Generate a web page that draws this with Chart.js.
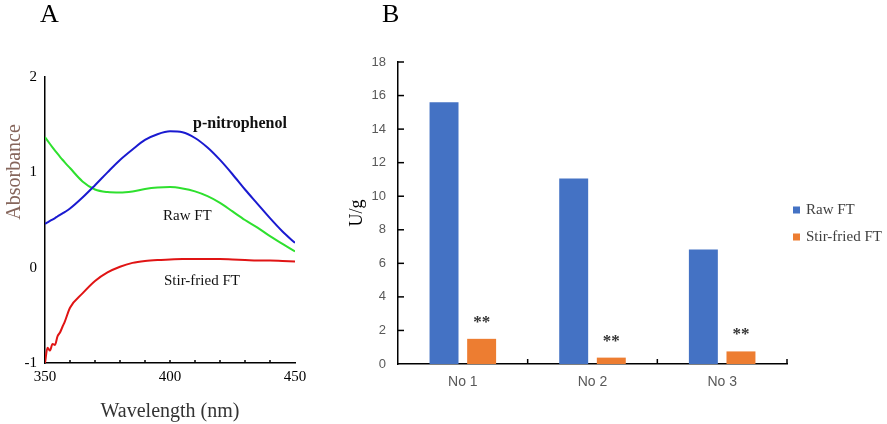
<!DOCTYPE html>
<html>
<head>
<meta charset="utf-8">
<script src="https://cdn.jsdelivr.net/npm/chart.js@4.4.1/dist/chart.umd.min.js"></script>
<style>
  html, body { margin: 0; padding: 0; background: #fff; }
  #wrap { position: relative; width: 887px; height: 424px; overflow: hidden; }
  canvas { position: absolute; top: 0; }
  #chartA { left: 0; }
  #chartB { left: 320px; }
</style>
</head>
<body>
<div id="wrap">
  <canvas id="chartA" width="320" height="424"></canvas>
  <canvas id="chartB" width="567" height="424"></canvas>
</div>
<script>
// Panel A data - absorbance spectra
var wavelengths = [350, 351, 352, 353, 354, 355, 356, 357, 358, 360, 365, 370, 375, 380, 385, 390, 395, 400, 405, 410, 415, 420, 425, 430, 435, 440, 445, 450];
var pNitrophenol = [0.46, 0.475, 0.49, 0.505, 0.52, 0.537, 0.553, 0.569, 0.585, 0.62, 0.735, 0.865, 1.00, 1.13, 1.24, 1.34, 1.40, 1.43, 1.42, 1.36, 1.26, 1.13, 0.98, 0.82, 0.67, 0.52, 0.38, 0.26];
var rawSpectrum = [1.37, 1.333, 1.297, 1.262, 1.228, 1.195, 1.163, 1.132, 1.102, 1.045, 0.905, 0.82, 0.793, 0.788, 0.80, 0.825, 0.84, 0.845, 0.83, 0.80, 0.75, 0.68, 0.59, 0.50, 0.42, 0.33, 0.25, 0.17];
var stirFriedSpectrum = [-1.0, -0.84, -0.87, -0.80, -0.81, -0.72, -0.68, -0.62, -0.56, -0.42, -0.27, -0.14, -0.05, 0.01, 0.05, 0.07, 0.08, 0.085, 0.09, 0.09, 0.09, 0.09, 0.085, 0.08, 0.075, 0.075, 0.07, 0.065];

// Panel B data - enzyme activity
var samples = ['No 1', 'No 2', 'No 3'];
var rawActivity = [15.6, 11.05, 6.83];
var stirFriedActivity = [1.5, 0.38, 0.75];
var significance = ['**', '**', '**'];

function toPoints(xs, ys) {
    return xs.map(function (x, i) { return { x: x, y: ys[i] }; });
}

// Panel A extras: inward ticks, curve labels, panel letter
var panelA = {
    id: 'panelA',
    afterDraw: function (chart) {
        var ctx = chart.ctx, xs = chart.scales.x, ys = chart.scales.y;
        ctx.save();
        ctx.strokeStyle = '#000';
        ctx.lineWidth = 1.5;
        for (var w = 360; w < 450; w += 10) {
            var px = xs.getPixelForValue(w);
            ctx.beginPath();
            ctx.moveTo(px, ys.bottom);
            ctx.lineTo(px, ys.bottom - 3);
            ctx.stroke();
        }
        ctx.fillStyle = '#111';
        ctx.textAlign = 'left';
        ctx.textBaseline = 'middle';
        ctx.font = 'bold 16px "Liberation Serif"';
        ctx.fillText('p-nitrophenol', xs.getPixelForValue(409.2), ys.getPixelForValue(1.51));
        ctx.font = '15px "Liberation Serif"';
        ctx.fillText('Raw FT', xs.getPixelForValue(397.2), ys.getPixelForValue(0.54));
        ctx.fillText('Stir-fried FT', xs.getPixelForValue(397.6), ys.getPixelForValue(-0.14));

        // y title
        ctx.save();
        ctx.translate(15, 172);
        ctx.rotate(-Math.PI / 2);
        ctx.textAlign = 'center';
        ctx.fillStyle = '#86665c';
        ctx.font = '20px "Liberation Serif"';
        ctx.fillText('Absorbance', 0, 0);
        ctx.restore();

        ctx.fillStyle = '#000';
        ctx.textBaseline = 'alphabetic';
        ctx.font = '26px "Liberation Serif"';
        ctx.fillText('A', 40, 22);
        ctx.restore();
    }
};

var ctxA = document.getElementById('chartA');
new Chart(ctxA, {
    type: 'line',
    data: {
        datasets: [{
            label: 'p-nitrophenol',
            data: toPoints(wavelengths, pNitrophenol),
            borderColor: '#1a1ad0',
            borderWidth: 2,
            pointRadius: 0,
            cubicInterpolationMode: 'monotone'
        }, {
            label: 'Raw FT',
            data: toPoints(wavelengths, rawSpectrum),
            borderColor: '#2ee02e',
            borderWidth: 2,
            pointRadius: 0,
            cubicInterpolationMode: 'monotone'
        }, {
            label: 'Stir-fried FT',
            data: toPoints(wavelengths, stirFriedSpectrum),
            borderColor: '#e01414',
            borderWidth: 2,
            pointRadius: 0,
            cubicInterpolationMode: 'monotone'
        }]
    },
    options: {
        responsive: false,
        animation: false,
        layout: { padding: { left: 0, top: 77, right: 25, bottom: 0 } },
        plugins: { legend: { display: false }, tooltip: { enabled: false } },
        scales: {
            x: {
                type: 'linear',
                min: 350,
                max: 450,
                afterFit: function (s) { s.height = 61; },
                grid: { display: false, drawTicks: false },
                border: { display: true, color: '#000', width: 1.5 },
                ticks: { stepSize: 50, padding: 5, color: '#000', font: { family: 'Liberation Serif', size: 15 } },
                title: { display: true, text: 'Wavelength (nm)', color: '#333', padding: 0, font: { family: 'Liberation Serif', size: 20 } }
            },
            y: {
                min: -1,
                max: 2,
                afterFit: function (s) { s.width = 45; },
                grid: { display: false, drawTicks: false },
                border: { display: true, color: '#000', width: 1.5 },
                ticks: { stepSize: 1, padding: 8, color: '#000', font: { family: 'Liberation Serif', size: 15 } }
            }
        }
    },
    plugins: [panelA]
});

// Panel B extras: inward ticks, significance marks, legend, panel letter
var panelB = {
    id: 'panelB',
    afterDraw: function (chart) {
        var ctx = chart.ctx, xs = chart.scales.x, ys = chart.scales.y;
        ctx.save();
        ctx.strokeStyle = '#000';
        ctx.lineWidth = 1.5;
        for (var v = 2; v <= 18; v += 2) {
            var py = ys.getPixelForValue(v);
            ctx.beginPath();
            ctx.moveTo(xs.left, py);
            ctx.lineTo(xs.left + 6, py);
            ctx.stroke();
        }
        for (var i = 0; i < samples.length; i++) {
            var bx = i < samples.length - 1 ?
                (xs.getPixelForValue(i) + xs.getPixelForValue(i + 1)) / 2 : xs.right;
            ctx.beginPath();
            ctx.moveTo(bx, ys.bottom);
            ctx.lineTo(bx, ys.bottom - 5);
            ctx.stroke();
        }

        var meta = chart.getDatasetMeta(1);
        ctx.fillStyle = '#333';
        ctx.textAlign = 'center';
        ctx.textBaseline = 'alphabetic';
        ctx.font = 'bold 17px "Liberation Serif"';
        meta.data.forEach(function (bar, j) {
            ctx.fillText(significance[j], bar.x, bar.y - 12);
        });

        // legend
        ctx.textAlign = 'left';
        ctx.textBaseline = 'middle';
        ctx.font = '15px "Liberation Serif"';
        chart.data.datasets.forEach(function (ds, k) {
            var ly = 210 + k * 27;
            ctx.fillStyle = ds.backgroundColor;
            ctx.fillRect(473, ly - 3.5, 7, 7);
            ctx.fillStyle = '#404040';
            ctx.fillText(ds.label, 486, ly);
        });

        ctx.fillStyle = '#000';
        ctx.textBaseline = 'alphabetic';
        ctx.font = '26px "Liberation Serif"';
        ctx.fillText('B', 62, 22);
        ctx.restore();
    }
};

var ctxB = document.getElementById('chartB');
new Chart(ctxB, {
    type: 'bar',
    data: {
        labels: samples,
        datasets: [{
            label: 'Raw FT',
            data: rawActivity,
            backgroundColor: '#4472c4',
            categoryPercentage: 0.58,
            barPercentage: 0.77
        }, {
            label: 'Stir-fried FT',
            data: stirFriedActivity,
            backgroundColor: '#ed7d31',
            categoryPercentage: 0.58,
            barPercentage: 0.77
        }]
    },
    options: {
        responsive: false,
        animation: false,
        layout: { padding: { left: 0, top: 62, right: 100, bottom: 0 } },
        plugins: { legend: { display: false }, tooltip: { enabled: false } },
        scales: {
            x: {
                afterFit: function (s) { s.height = 60; },
                grid: { display: false, drawTicks: false },
                border: { display: true, color: '#000', width: 1.5 },
                ticks: { padding: 10, color: '#595959', font: { family: 'Liberation Sans', size: 14 } }
            },
            y: {
                min: 0,
                max: 18,
                afterFit: function (s) { s.width = 78; },
                grid: { display: false, drawTicks: false },
                border: { display: true, color: '#000', width: 1.5 },
                ticks: { stepSize: 2, padding: 12, color: '#595959', font: { family: 'Liberation Sans', size: 13 } },
                title: { display: true, text: 'U/g', color: '#000', padding: { top: 26, bottom: 0 }, font: { family: 'Liberation Serif', size: 18 } }
            }
        }
    },
    plugins: [panelB]
});
</script>
</body>
</html>
